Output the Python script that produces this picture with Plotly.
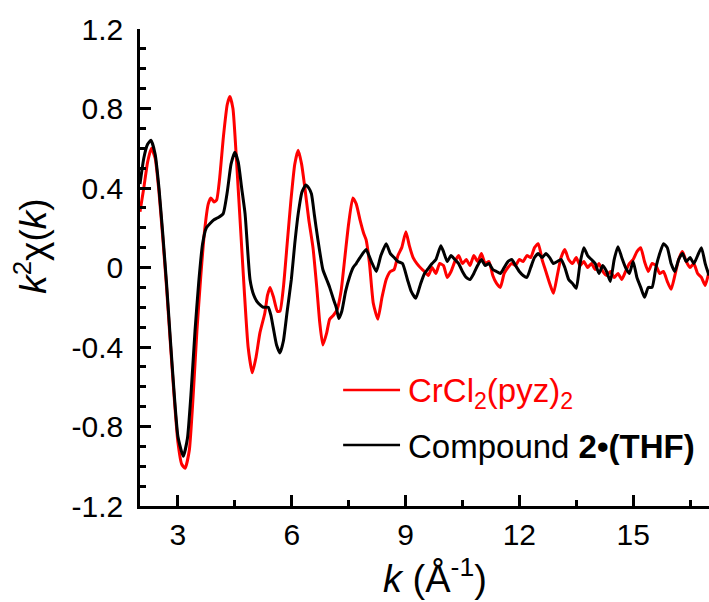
import plotly.graph_objects as go

# ---------------- data ----------------
k_red = [2.00, 2.10, 2.20, 2.30, 2.40, 2.50, 2.60, 2.70, 2.80, 2.90, 3.00, 3.10, 3.19, 3.30, 3.40,
         3.50, 3.60, 3.70, 3.80, 3.87, 3.95, 4.02, 4.10, 4.20, 4.30, 4.37, 4.45, 4.55, 4.65, 4.75,
         4.85, 4.96, 5.06, 5.16, 5.29, 5.36, 5.43, 5.52, 5.62, 5.69, 5.78, 5.88, 5.98, 6.08, 6.17,
         6.26, 6.34, 6.45, 6.56, 6.66, 6.74, 6.82, 6.92, 7.00, 7.10, 7.20, 7.30, 7.40, 7.50, 7.61,
         7.70, 7.80, 7.90, 7.96, 8.05, 8.15, 8.27, 8.38, 8.49, 8.60, 8.70, 8.80, 8.90, 9.01, 9.10,
         9.20, 9.30, 9.44,
         9.5, 9.6, 9.7, 9.8, 9.9, 10.0, 10.1, 10.2, 10.3, 10.4, 10.5, 10.6, 10.7, 10.8, 10.9,
         11.0, 11.1, 11.2, 11.3, 11.4, 11.5, 11.6, 11.7, 11.8, 11.9, 12.0, 12.1, 12.2, 12.3, 12.4,
         12.5, 12.6, 12.7, 12.8, 12.9, 13.0, 13.1, 13.2, 13.3, 13.4, 13.5, 13.6, 13.7, 13.8, 13.9,
         14.0, 14.1, 14.2, 14.3, 14.4, 14.5, 14.6, 14.7, 14.8, 14.9, 15.0, 15.1, 15.2, 15.3, 15.4,
         15.5, 15.6, 15.7, 15.8, 15.9, 16.0, 16.1, 16.2, 16.3, 16.4, 16.5, 16.6, 16.7, 16.8, 16.9,
         17.0]
chi_red = [0.28, 0.40, 0.53, 0.60, 0.55, 0.38, 0.15, -0.10, -0.38, -0.65, -0.88, -0.99, -1.01, -0.92, -0.65,
           -0.32, -0.05, 0.18, 0.32, 0.35, 0.33, 0.34, 0.45, 0.66, 0.82, 0.86, 0.80, 0.52, 0.20, -0.12,
           -0.40, -0.53, -0.45, -0.33, -0.23, -0.14, -0.10, -0.15, -0.22, -0.22, -0.10, 0.12, 0.34, 0.52, 0.59,
           0.52, 0.41, 0.24, 0.10, -0.10, -0.28, -0.39, -0.33, -0.26, -0.24, -0.21, -0.12, 0.05, 0.22, 0.35,
           0.32, 0.24, 0.17, 0.14, 0.02, -0.18, -0.26, -0.15, -0.06, -0.02, -0.01, 0.06, 0.10, 0.18, 0.11,
           0.05, 0.02, -0.01,
           -0.02, -0.04, 0.00, -0.03, 0.02, 0.01, -0.05, -0.02, 0.03, 0.06, 0.02, 0.04, 0.01, 0.06, 0.03,
           0.07, 0.02, 0.03, -0.04, -0.08, -0.10, -0.03, 0.00, 0.02, 0.01, 0.04, 0.03, 0.06, 0.05, 0.10,
           0.12, 0.04, -0.02, -0.08, -0.13, -0.04, 0.05, 0.09, 0.04, 0.02, 0.05, 0.01, 0.03, 0.00, 0.02,
           -0.01, 0.02, -0.02, -0.04, -0.02, -0.05, -0.03, -0.06, -0.02, 0.02, 0.04, 0.08, 0.10, 0.03, -0.02,
           0.02, 0.01, -0.03, -0.02, -0.07, -0.11, -0.04, 0.04, 0.08, 0.03, 0.00, 0.02, -0.03, -0.05, -0.09,
           -0.02]

k_blk = [2.00, 2.10, 2.20, 2.29, 2.40, 2.50, 2.60, 2.70, 2.80, 2.90, 3.00, 3.14, 3.25, 3.35, 3.45,
         3.55, 3.65, 3.75, 3.84, 3.95, 4.05, 4.19, 4.30, 4.40, 4.50, 4.59, 4.68, 4.77, 4.90, 5.00,
         5.08, 5.18, 5.25, 5.38, 5.45, 5.51, 5.60, 5.69, 5.78, 5.88, 5.99, 6.08, 6.17, 6.27, 6.37,
         6.45, 6.52, 6.60, 6.69, 6.82, 6.92, 7.00, 7.10, 7.18, 7.24, 7.32, 7.42, 7.52, 7.62, 7.70,
         7.80, 7.96, 8.10, 8.23, 8.35, 8.49, 8.60, 8.70, 8.80, 8.92, 9.05, 9.15, 9.27, 9.40, 9.50,
         9.58,
         9.7, 9.8, 9.93, 10.0, 10.1, 10.2, 10.3, 10.4, 10.5, 10.6, 10.7, 10.8, 10.9,
         11.0, 11.1, 11.2, 11.3, 11.4, 11.5, 11.6, 11.7, 11.8, 11.9, 12.0, 12.1, 12.2, 12.3, 12.4,
         12.5, 12.6, 12.7, 12.8, 12.9, 13.0, 13.1, 13.2, 13.3, 13.4, 13.5, 13.6, 13.7, 13.8, 13.9,
         14.0, 14.1, 14.2, 14.3, 14.4, 14.5, 14.6, 14.7, 14.8, 14.9, 15.0, 15.1, 15.2, 15.3, 15.4,
         15.5, 15.6, 15.7, 15.8, 15.9, 16.0, 16.1, 16.2, 16.3, 16.4, 16.5, 16.6, 16.7, 16.8, 16.9,
         17.0]
chi_blk = [0.42, 0.55, 0.62, 0.64, 0.57, 0.40, 0.17, -0.08, -0.36, -0.63, -0.85, -0.95, -0.86, -0.62, -0.32,
           -0.07, 0.12, 0.20, 0.22, 0.24, 0.25, 0.27, 0.38, 0.52, 0.58, 0.53, 0.40, 0.27, -0.06, -0.14,
           -0.17, -0.19, -0.20, -0.20, -0.24, -0.30, -0.39, -0.43, -0.37, -0.22, -0.06, 0.12, 0.27, 0.38, 0.415,
           0.40, 0.37, 0.26, 0.14, -0.01, -0.06, -0.10, -0.16, -0.205, -0.256, -0.22, -0.12, -0.05, 0.00, 0.02,
           0.05, 0.09, 0.03, -0.02, 0.06, 0.12, 0.07, 0.05, 0.03, 0.02, -0.06, -0.12, -0.155, -0.08, -0.03,
           -0.01,
           0.02, 0.04, 0.11, 0.08, 0.03, 0.06, 0.04, 0.02, -0.02, -0.05, -0.06, -0.03, 0.01,
           0.04, 0.01, 0.02, -0.01, -0.02, -0.03, 0.00, 0.03, 0.04, 0.01, -0.02, -0.04, -0.05, 0.00, 0.05,
           0.07, 0.05, 0.07, 0.05, 0.02, 0.03, 0.04, 0.00, -0.06, -0.08, -0.105, 0.02, 0.10, 0.06, 0.04,
           0.02, -0.03, 0.01, -0.02, -0.07, 0.04, 0.105, 0.05, 0.00, -0.03, 0.03, -0.05, -0.10, -0.15, -0.10,
           -0.10, 0.00, 0.07, 0.12, 0.10, 0.02, -0.02, 0.04, 0.07, 0.03, 0.05, 0.02, 0.06, 0.10, 0.02,
           -0.04]

x_ticks = [3, 6, 9, 12, 15]
y_ticks = [-1.2, -0.8, -0.4, 0, 0.4, 0.8, 1.2]
y_tick_labels = ["-1.2", "-0.8", "-0.4", "0", "0.4", "0.8", "1.2"]

x_title = "<i>k</i> (Å<sup>-1</sup>)"
y_title = "<i>k</i><sup>2</sup>χ(<i>k</i>)"
name_red = "CrCl<sub>2</sub>(pyz)<sub>2</sub>"
name_blk = "Compound <b>2•(THF)</b>"

RED = "#ff0000"
BLK = "#000000"
FONT = "Liberation Sans, Arial, sans-serif"

fig = go.Figure()
fig.add_trace(go.Scatter(x=k_red, y=chi_red, mode="lines", name=name_red,
                         line=dict(color=RED, width=3, shape="spline", smoothing=0.5),
                         showlegend=False))
fig.add_trace(go.Scatter(x=k_blk, y=chi_blk, mode="lines", name=name_blk,
                         line=dict(color=BLK, width=3, shape="spline", smoothing=0.5),
                         showlegend=False))

axis_common = dict(showline=True, linecolor="black", linewidth=2.5, showgrid=False, zeroline=False,
                   ticks="inside", ticklen=11, tickwidth=2.5, tickcolor="black",
                   tickfont=dict(family=FONT, size=30, color="black"),
                   mirror=False, automargin=False)

fig.update_xaxes(range=[2, 17], tickvals=x_ticks, ticktext=[str(v) for v in x_ticks],
                 minor=dict(ticks="inside", dtick=1.5, tick0=1.5, ticklen=6, tickwidth=2.5, tickcolor="black"),
                 ticklabelstandoff=0,
                 **axis_common)
fig.update_yaxes(range=[-1.2, 1.2], tickvals=y_ticks, ticktext=y_tick_labels,
                 minor=dict(ticks="inside", dtick=0.1, tick0=0, ticklen=6, tickwidth=2.5, tickcolor="black"),
                 ticklabelstandoff=8,
                 **axis_common)

# axis titles
fig.add_annotation(xref="paper", yref="paper", x=0.518, y=-0.146, xanchor="center", yanchor="middle",
                   text=x_title, showarrow=False, font=dict(family=FONT, size=38, color="black"))
fig.add_annotation(xref="paper", yref="paper", x=-0.192, y=0.545, xanchor="center", yanchor="middle",
                   text=y_title, showarrow=False, textangle=-90,
                   font=dict(family=FONT, size=37, color="black"))

# legend drawn manually (line samples + labels)
fig.add_shape(type="line", xref="paper", yref="paper", x0=0.357, x1=0.457, y0=0.243, y1=0.243,
              line=dict(color=RED, width=2.5))
fig.add_shape(type="line", xref="paper", yref="paper", x0=0.357, x1=0.457, y0=0.128, y1=0.128,
              line=dict(color=BLK, width=2.5))
fig.add_annotation(xref="paper", yref="paper", x=0.467, y=0.236, xanchor="left", yanchor="middle",
                   text=name_red, showarrow=False, font=dict(family=FONT, size=33, color=RED))
fig.add_annotation(xref="paper", yref="paper", x=0.467, y=0.124, xanchor="left", yanchor="middle",
                   text=name_blk, showarrow=False, font=dict(family=FONT, size=33, color=BLK))

fig.update_layout(width=709, height=602, margin=dict(l=140, r=0, t=29, b=96),
                  plot_bgcolor="white", paper_bgcolor="white", showlegend=False)

fig.write_html("out.html", config={"displayModeBar": False},
               post_script="document.body.style.margin='0';")
